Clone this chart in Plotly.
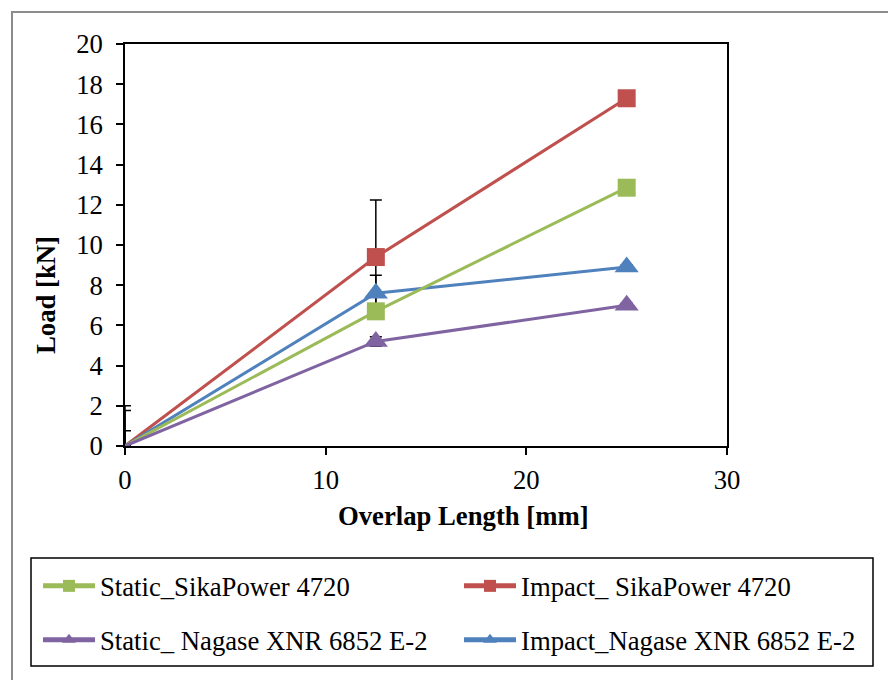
import plotly.graph_objects as go

# Overlap length (mm) and measured peak load (kN) per adhesive / test type
overlap_mm = [0, 12.5, 25]

static_sika = [0, 6.7, 12.85]
impact_sika = [0, 9.4, 17.3]
static_nagase = [0, 5.2, 7.0]
impact_nagase = [0, 7.6, 8.9]

# Scatter (+ / -) of the load measurements
static_sika_err = [0.76, 0.35, 0.3]
impact_sika_err = [2.0, 2.84, 0.3]
static_nagase_err = [0.1, 0.24, 0.1]
impact_nagase_err = [1.76, 0.9, 0.1]
err_minus_at_origin = 0  # nothing below zero load

names = {
    "static_sika": "Static_SikaPower 4720",
    "impact_sika": "Impact_ SikaPower 4720",
    "static_nagase": "Static_ Nagase XNR 6852 E-2",
    "impact_nagase": "Impact_Nagase XNR 6852 E-2",
}

GREEN = "#9BBB59"
RED = "#C0504D"
PURPLE = "#8064A2"
BLUE = "#4F81BD"
FONT = "Liberation Serif, Times New Roman, serif"
FS = 26.7

W, H = 888, 680
L, R, T, B = 125, 161, 44, 234
PW, PH = W - L - R, H - T - B


def px_x(x):
    return (x - L) / PW


def px_y(y):
    return (H - B - y) / PH


def minus(err):
    return [err_minus_at_origin] + list(err[1:])


def error_trace(y, err):
    # error bars only; drawn first so the series markers sit on top of them
    return go.Scatter(
        x=overlap_mm,
        y=y,
        mode="markers",
        marker=dict(size=1, opacity=0),
        error_y=dict(
            type="data",
            array=err,
            arrayminus=minus(err),
            symmetric=False,
            color="black",
            thickness=1.5,
            width=6,
        ),
        showlegend=False,
        hoverinfo="skip",
    )


def series(y, name, color, symbol, msize, legend):
    return go.Scatter(
        x=overlap_mm,
        y=y,
        name=name,
        mode="lines+markers",
        line=dict(color=color, width=3),
        marker=dict(
            symbol=symbol,
            color=color,
            size=[0, msize, msize],
            opacity=1,
            line=dict(width=0),
        ),
        legend=legend,
    )


fig = go.Figure()
for y, err in [
    (impact_sika, impact_sika_err),
    (impact_nagase, impact_nagase_err),
    (static_sika, static_sika_err),
    (static_nagase, static_nagase_err),
]:
    fig.add_trace(error_trace(y, err))

fig.add_trace(series(impact_sika, names["impact_sika"], RED, "square", 18, "legend2"))
fig.add_trace(series(impact_nagase, names["impact_nagase"], BLUE, "triangle-up", 21, "legend4"))
fig.add_trace(series(static_sika, names["static_sika"], GREEN, "square", 18, "legend"))
fig.add_trace(series(static_nagase, names["static_nagase"], PURPLE, "triangle-up", 21, "legend3"))

axis_common = dict(
    showline=True,
    linecolor="black",
    linewidth=1.5,
    mirror=True,
    ticks="outside",
    ticklen=7,
    tickwidth=1.5,
    tickcolor="black",
    showgrid=False,
    zeroline=False,
    tickfont=dict(family=FONT, size=FS, color="black"),
)


def legend_at(xpx, ypx):
    return dict(
        orientation="h",
        xanchor="left",
        yanchor="middle",
        x=px_x(xpx),
        y=px_y(ypx),
        itemwidth=52,
        itemsizing="constant",
        bgcolor="rgba(0,0,0,0)",
        borderwidth=0,
        font=dict(family=FONT, size=FS, color="black"),
    )


COL1, COL2 = 38, 459
ROW1, ROW2 = 586, 640

fig.update_layout(
    width=W,
    height=H,
    margin=dict(l=L, r=R, t=T, b=B),
    paper_bgcolor="white",
    plot_bgcolor="white",
    xaxis=dict(range=[0, 30], dtick=10, ticklabelstandoff=2, **axis_common),
    yaxis=dict(range=[0, 20], dtick=2, ticklabelstandoff=8, **axis_common),
    legend=legend_at(COL1, ROW1),
    legend2=legend_at(COL2, ROW1),
    legend3=legend_at(COL1, ROW2),
    legend4=legend_at(COL2, ROW2),
    annotations=[
        dict(
            text="<b>Overlap Length [mm]</b>",
            xref="paper", yref="paper",
            x=px_x(463), y=px_y(516),
            xanchor="center", yanchor="middle",
            showarrow=False,
            font=dict(family=FONT, size=FS, color="black"),
        ),
        dict(
            text="<b>Load [kN]</b>",
            xref="paper", yref="paper",
            x=px_x(46), y=px_y(295),
            xanchor="center", yanchor="middle",
            textangle=-90,
            showarrow=False,
            font=dict(family=FONT, size=FS, color="black"),
        ),
    ],
    shapes=[
        # chart frame
        dict(
            type="rect", xref="paper", yref="paper",
            x0=px_x(12), x1=px_x(W + 20), y0=px_y(H + 20), y1=px_y(12),
            line=dict(color="#8c8c8c", width=2),
            fillcolor="rgba(0,0,0,0)", layer="below",
        ),
        # legend frame
        dict(
            type="rect", xref="paper", yref="paper",
            x0=px_x(31), x1=px_x(873), y0=px_y(666), y1=px_y(558),
            line=dict(color="black", width=1.5),
            fillcolor="rgba(0,0,0,0)",
        ),
    ],
    showlegend=True,
)

fig.write_html("out.html")
